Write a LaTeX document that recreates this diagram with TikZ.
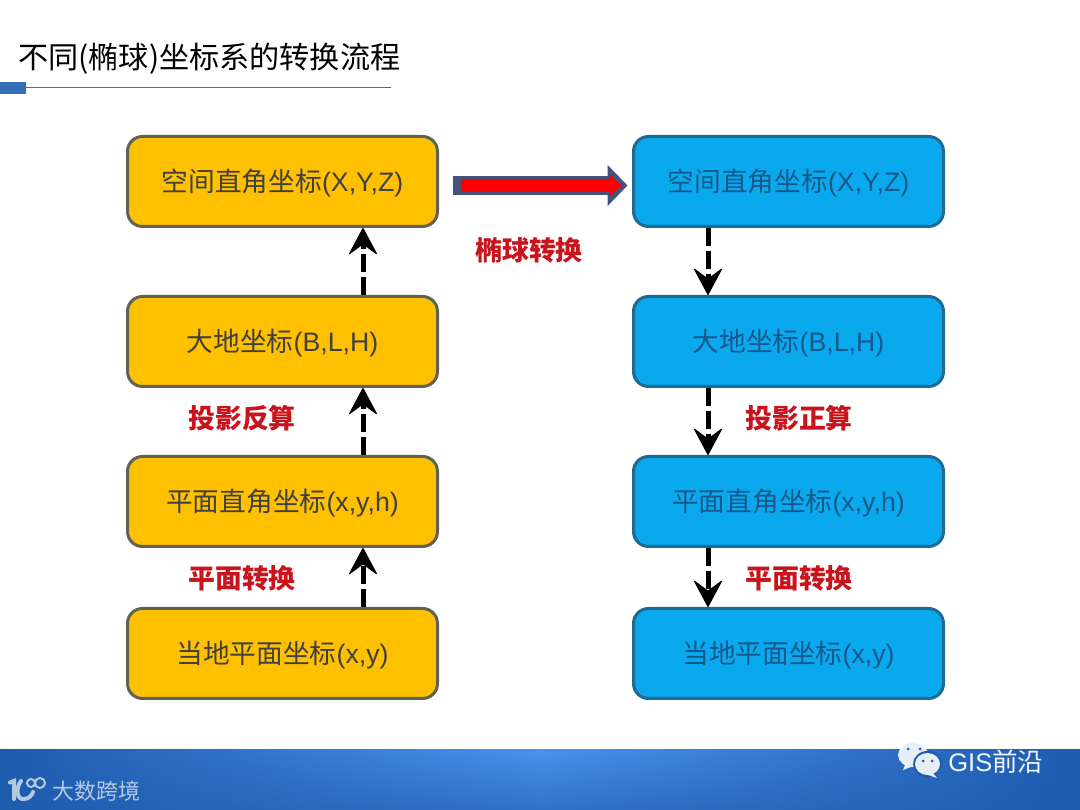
\documentclass[tikz,border=0pt]{standalone}
\usepackage{fontspec}
\setmainfont{Liberation Sans}
\newfontfamily\cjk{Noto Sans CJK SC}
\usetikzlibrary{arrows.meta}
\usetikzlibrary{fadings}
\definecolor{amber}{HTML}{FFC000}
\definecolor{amberline}{HTML}{5F6352}
\definecolor{sky}{HTML}{0AA9EE}
\definecolor{skyline}{HTML}{1F6A90}
\definecolor{skytext}{HTML}{17588C}
\definecolor{slate}{HTML}{46527A}
\definecolor{lab}{HTML}{C8141C}
\definecolor{foot}{HTML}{1E5CB0}
\definecolor{footmid}{HTML}{4B92EA}
\definecolor{brandtext}{HTML}{B4C8E0}
\definecolor{bubblewhite}{HTML}{E6EEF7}
\tikzset{
  coordbox/.style={rounded corners=0.3cm, line width=0.06cm, minimum width=6.2cm, minimum height=1.8cm, inner sep=0pt, text height=0.52cm, text depth=0.1cm, font=\fontsize{15.2}{17}\selectfont},
  leftbox/.style={coordbox, draw=amberline, fill=amber, text=black!75},
  rightbox/.style={coordbox, draw=skyline, fill=sky, text=skytext},
  convarrow/.style={line width=0.1cm, dash pattern=on 0.36cm off 0.1cm, -{Stealth[round,length=0.56cm,width=0.6cm,inset=0.22cm,line width=0.02cm]}},
  convlabel/.style={text=lab, font=\fontsize{15.3}{17}\selectfont\bfseries},
  logoline/.style={draw=brandtext, line cap=round}
}
\begin{document}
\begin{tikzpicture}
\useasboundingbox (0,0) rectangle (21.6,16.2);
\fill[white] (0,0) rectangle (21.6,16.2);
\node[anchor=west, inner sep=0pt, font=\fontsize{17.15}{20}\selectfont] (title) at (0.36,15.02) {\cjk 不同(椭球)坐标系的转换流程};
\draw[line width=0.02cm, black!60] (0.5,14.44) -- (7.82,14.44);
\fill[foot!90!white] (0,14.32) rectangle (0.52,14.56);

\node[leftbox] (spaceL) at (5.65,12.57) {\cjk 空间直角坐标\rmfamily(X,Y,Z)};
\node[leftbox] (geoL) at (5.65,9.37) {\cjk 大地坐标\rmfamily(B,L,H)};
\node[leftbox] (planeL) at (5.65,6.17) {\cjk 平面直角坐标\rmfamily(x,y,h)};
\node[leftbox] (localL) at (5.65,3.13) {\cjk 当地平面坐标\rmfamily(x,y)};
\node[rightbox] (spaceR) at (15.77,12.57) {\cjk 空间直角坐标\rmfamily(X,Y,Z)};
\node[rightbox] (geoR) at (15.77,9.37) {\cjk 大地坐标\rmfamily(B,L,H)};
\node[rightbox] (planeR) at (15.77,6.17) {\cjk 平面直角坐标\rmfamily(x,y,h)};
\node[rightbox] (localR) at (15.77,3.13) {\cjk 当地平面坐标\rmfamily(x,y)};

\coordinate (upx) at (7.26,0);
\coordinate (downx) at (14.16,0);
\draw[convarrow] (localL.north -| upx) -- (planeL.south -| upx);
\draw[convarrow] (planeL.north -| upx) -- (geoL.south -| upx);
\draw[convarrow] (geoL.north -| upx) -- (spaceL.south -| upx);
\draw[convarrow] (spaceR.south -| downx) -- (geoR.north -| downx);
\draw[convarrow] (geoR.south -| downx) -- (planeR.north -| downx);
\draw[convarrow] (planeR.south -| downx) -- (localR.north -| downx);

\draw[slate, line width=0.38cm, shorten <=0.27cm, shorten >=0.09cm, -{Triangle[length=0.4cm,width=0.8cm]}] ([yshift=-0.08cm]spaceL.east) -- ([yshift=-0.08cm]spaceR.west);
\draw[red, line width=0.27cm, shorten <=0.43cm, shorten >=0.2cm, -{Triangle[length=0.26cm,width=0.42cm]}] ([yshift=-0.08cm]spaceL.east) -- ([yshift=-0.08cm]spaceR.west);

\node[convlabel] (ellipse) at (10.58,11.2) {\cjk 椭球转换};
\node[convlabel] (inverse) at (4.84,7.84) {\cjk 投影反算};
\node[convlabel] (planeA) at (4.84,4.64) {\cjk 平面转换};
\node[convlabel] (forward) at (15.98,7.84) {\cjk 投影正算};
\node[convlabel] (planeB) at (15.98,4.64) {\cjk 平面转换};

\shade[left color=foot, right color=foot, middle color=footmid] (0,0) rectangle (21.6,1.2);
\fill[foot, path fading=north, opacity=0.6] (0,0) rectangle (21.6,1.2);

\draw[logoline, line width=0.08cm] (0.2,0.55) -- (0.28,0.58) -- (0.28,0.22);
\draw[logoline, line width=0.08cm] (0.42,0.58) .. controls (0.3,0.42) and (0.34,0.2) .. (0.48,0.22) .. controls (0.58,0.22) and (0.64,0.3) .. (0.66,0.36);
\draw[logoline, line width=0.04cm] (0.62,0.54) circle [radius=0.08];
\draw[logoline, line width=0.04cm] (0.8,0.54) circle [radius=0.1];
\node[anchor=west, inner sep=0pt, text=brandtext, font=\fontsize{12.5}{14}\selectfont] (brand) at (1.04,0.38) {\cjk 大数跨境};

\fill[bubblewhite] (18.26,1.1) ellipse [x radius=0.3, y radius=0.24];
\fill[bubblewhite] (18.12,0.95) -- (18.06,0.8) -- (18.32,0.9) -- cycle;
\fill[foot] (18.55,0.92) ellipse [x radius=0.29, y radius=0.26];
\fill[bubblewhite] (18.55,0.92) ellipse [x radius=0.25, y radius=0.22];
\fill[bubblewhite] (18.64,0.76) -- (18.74,0.64) -- (18.5,0.72) -- cycle;
\fill[foot] (18.16,1.22) circle [radius=0.03] (18.4,1.22) circle [radius=0.03];
\fill[foot] (18.46,0.98) circle [radius=0.03] (18.64,0.98) circle [radius=0.03];
\node[anchor=west, inner sep=0pt, text=white!95!foot, font=\fontsize{14.5}{16}\selectfont] (gis) at (18.96,0.96) {GIS\cjk 前沿};
\end{tikzpicture}
\end{document}
